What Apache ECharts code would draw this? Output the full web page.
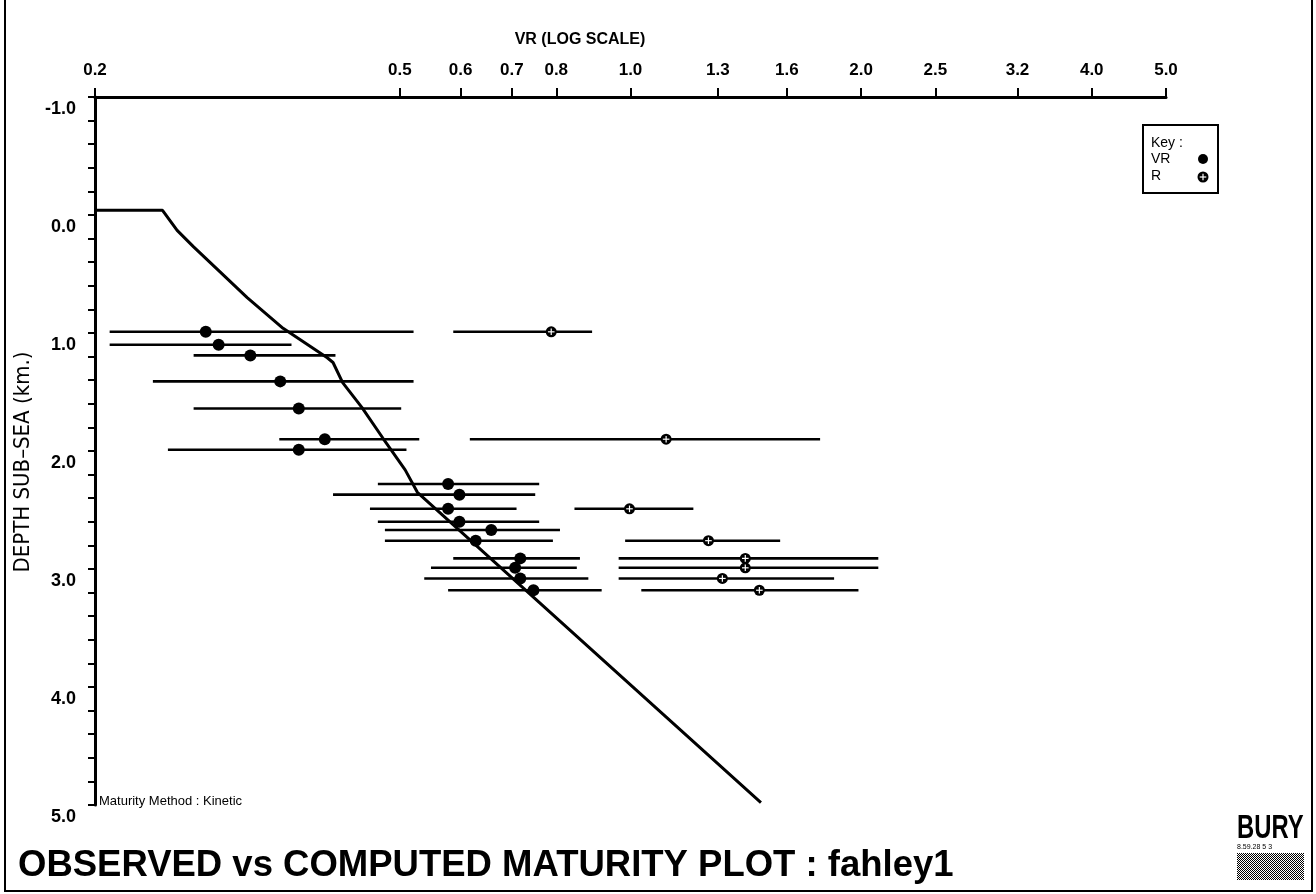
<!DOCTYPE html>
<html><head><meta charset="utf-8">
<script src="https://cdn.jsdelivr.net/npm/echarts@6/dist/echarts.min.js"></script>
<style>html,body{margin:0;padding:0;background:#fff}#c{width:1316px;height:894px}</style>
</head><body><div id="c"></div>
<script>
// ---- tick labels ----
const xTickLabels = [0.2, 0.5, 0.6, 0.7, 0.8, 1.0, 1.3, 1.6, 2.0, 2.5, 3.2, 4.0, 5.0];
const yTickLabels = [-1, 0, 1, 2, 3, 4, 5];

// ---- computed maturity curve: [VR, depth km] ----
const computedCurve = [
  [0.2, -0.04], [0.245, -0.04], [0.256, 0.13], [0.269, 0.27], [0.291, 0.48],
  [0.316, 0.70], [0.352, 0.96], [0.402, 1.21], [0.409, 1.25], [0.421, 1.42],
  [0.446, 1.63], [0.475, 1.89], [0.508, 2.16], [0.527, 2.35], [1.48, 4.98]
];

// ---- observed VR samples ----
const vrDepth = [0.99, 1.10, 1.19, 1.41, 1.64, 1.90, 1.99, 2.28, 2.37, 2.49, 2.60, 2.67, 2.76, 2.91, 2.99, 3.08, 3.18];
const vrValue = [0.279, 0.290, 0.319, 0.349, 0.369, 0.399, 0.369, 0.578, 0.598, 0.578, 0.598, 0.658, 0.628, 0.718, 0.707, 0.718, 0.747];
const vrLow   = [0.209, 0.209, 0.269, 0.238, 0.269, 0.348, 0.249, 0.468, 0.409, 0.457, 0.468, 0.478, 0.478, 0.587, 0.549, 0.538, 0.578];
const vrHigh  = [0.521, 0.361, 0.412, 0.521, 0.502, 0.530, 0.510, 0.760, 0.751, 0.710, 0.760, 0.809, 0.792, 0.859, 0.851, 0.881, 0.917];

// ---- observed R samples ----
const rDepth = [0.99, 1.90, 2.49, 2.76, 2.91, 2.99, 3.08, 3.18];
const rValue = [0.788, 1.113, 0.997, 1.264, 1.412, 1.412, 1.318, 1.473];
const rLow   = [0.587, 0.617, 0.845, 0.984, 0.965, 0.965, 0.965, 1.033];
const rHigh  = [0.891, 1.768, 1.208, 1.568, 2.106, 2.106, 1.844, 1.984];

const FONT = '"Liberation Sans", Arial, Helvetica, sans-serif';
const chart = echarts.init(document.getElementById('c'), null, {renderer: 'canvas'});

function barItem(params, api) {
  const p1 = api.coord([api.value(0), api.value(2)]);
  const p2 = api.coord([api.value(1), api.value(2)]);
  return {type: 'line', shape: {x1: p1[0], y1: p1[1], x2: p2[0], y2: p2[1]},
          style: {stroke: '#000', lineWidth: 2.6}};
}
function rGlyph(x, y) {
  return {type: 'group', x: x, y: y, children: [
    {type: 'circle', shape: {cx: 0, cy: 0, r: 5.5}, style: {fill: '#000'}},
    {type: 'line', shape: {x1: -3.3, y1: 0, x2: 3.3, y2: 0}, style: {stroke: '#fff', lineWidth: 1.2}},
    {type: 'line', shape: {x1: 0, y1: -3.3, x2: 0, y2: 3.3}, style: {stroke: '#fff', lineWidth: 1.2}}
  ]};
}
function rMarkItem(params, api) {
  const p = api.coord([api.value(0), api.value(1)]);
  return rGlyph(p[0], p[1]);
}

// checkerboard pattern for the logo box
const pat = document.createElement('canvas');
pat.width = 4; pat.height = 4;
const pc = pat.getContext('2d');
pc.fillStyle = '#fff'; pc.fillRect(0, 0, 4, 4);
pc.fillStyle = '#000';
pc.fillRect(0, 0, 1, 1); pc.fillRect(2, 0, 1, 1); pc.fillRect(1, 1, 1, 1); pc.fillRect(3, 1, 1, 1);
pc.fillRect(0, 2, 1, 1); pc.fillRect(2, 2, 1, 1); pc.fillRect(1, 3, 1, 1); pc.fillRect(3, 3, 1, 1);

const option = {
  animation: false,
  backgroundColor: '#fff',
  grid: {left: 95, right: 150, top: 97, bottom: 89, containLabel: false},
  xAxis: {
    type: 'log', logBase: 10, min: 0.2, max: 5.0, position: 'top',
    axisLine: {show: true, onZero: false, lineStyle: {color: '#000', width: 3}},
    axisTick: {show: true, inside: false, length: 9, customValues: xTickLabels, lineStyle: {color: '#000', width: 2}},
    axisLabel: {show: true, customValues: xTickLabels, margin: 18, color: '#000',
      fontFamily: FONT, fontWeight: 'bold', fontSize: 17,
      formatter: v => Number(v).toFixed(1)},
    splitLine: {show: false}, minorTick: {show: false}
  },
  yAxis: {
    type: 'value', inverse: true, min: -1, max: 5, interval: 1,
    axisLine: {show: true, onZero: false, lineStyle: {color: '#000', width: 3}},
    axisTick: {show: true, inside: false, length: 7, lineStyle: {color: '#000', width: 2}},
    minorTick: {show: true, splitNumber: 5, length: 7, lineStyle: {color: '#000', width: 2}},
    axisLabel: {show: true, margin: 19, color: '#000', fontFamily: FONT, fontWeight: 'bold', fontSize: 18,
      verticalAlign: 'top', padding: [3, 0, 0, 0],
      formatter: v => Number(v).toFixed(1)},
    splitLine: {show: false}
  },
  series: [
    {type: 'custom', name: 'VR range', renderItem: barItem, encode: {x: [0, 1], y: 2},
     data: vrDepth.map((d, i) => [vrLow[i], vrHigh[i], d]), z: 2},
    {type: 'custom', name: 'R range', renderItem: barItem, encode: {x: [0, 1], y: 2},
     data: rDepth.map((d, i) => [rLow[i], rHigh[i], d]), z: 2},
    {type: 'line', name: 'Computed', data: computedCurve, showSymbol: false, symbol: 'none',
     lineStyle: {color: '#000', width: 3}, z: 3},
    {type: 'scatter', name: 'VR', data: vrDepth.map((d, i) => [vrValue[i], d]),
     symbol: 'circle', symbolSize: 12, itemStyle: {color: '#000', opacity: 1}, z: 4},
    {type: 'custom', name: 'R', renderItem: rMarkItem, encode: {x: 0, y: 1},
     data: rDepth.map((d, i) => [rValue[i], d]), z: 4}
  ],
  graphic: [
    // frame
    {type: 'polyline', shape: {points: [[5, 0], [5, 891], [1312, 891], [1312, 0]]},
     style: {stroke: '#000', lineWidth: 2, fill: null}},
    // axis names
    {type: 'text', x: 580, y: 40, style: {text: 'VR (LOG SCALE)', font: 'bold 16px ' + FONT,
      fill: '#000', textAlign: 'center', textVerticalAlign: 'middle'}},
    {type: 'text', x: 23, y: 462, rotation: Math.PI / 2,
     style: {text: 'DEPTH SUB\u2013SEA (km.)', font: '22px "DejaVu Sans Condensed", "Liberation Sans Narrow", "DejaVu Sans", sans-serif',
      fill: '#000', textAlign: 'center', textVerticalAlign: 'middle'}},
    // method note
    {type: 'text', x: 99, y: 801, style: {text: 'Maturity Method : Kinetic', font: '13px ' + FONT,
      fill: '#000', textAlign: 'left', textVerticalAlign: 'middle'}},
    // title
    {type: 'text', x: 18, y: 866, style: {text: 'OBSERVED vs COMPUTED MATURITY PLOT : fahley1',
      font: 'bold 36.5px ' + FONT, fill: '#000', textAlign: 'left', textVerticalAlign: 'middle'}},
    // key
    {type: 'rect', shape: {x: 1143, y: 125, width: 75, height: 68}, style: {fill: '#fff', stroke: '#000', lineWidth: 2}},
    {type: 'text', x: 1151, y: 143, style: {text: 'Key :', font: '14px ' + FONT, fill: '#000', textVerticalAlign: 'middle'}},
    {type: 'text', x: 1151, y: 159, style: {text: 'VR', font: '14px ' + FONT, fill: '#000', textVerticalAlign: 'middle'}},
    {type: 'text', x: 1151, y: 176, style: {text: 'R', font: '14px ' + FONT, fill: '#000', textVerticalAlign: 'middle'}},
    {type: 'circle', shape: {cx: 1203, cy: 159, r: 5}, style: {fill: '#000'}},
    rGlyph(1203, 177),
    // logo
    {type: 'text', x: 1237, y: 829, scaleX: 0.7, style: {text: 'BURY', font: 'bold 34px ' + FONT,
      fill: '#000', textAlign: 'left', textVerticalAlign: 'middle'}},
    {type: 'text', x: 1237, y: 847, style: {text: '8.59.28 5 3', font: '7px ' + FONT,
      fill: '#000', textAlign: 'left', textVerticalAlign: 'middle'}},
    {type: 'rect', shape: {x: 1237, y: 853, width: 67, height: 27}, style: {fill: {image: pat, repeat: 'repeat'}}}
  ]
};
chart.setOption(option);
</script>
</body></html>
